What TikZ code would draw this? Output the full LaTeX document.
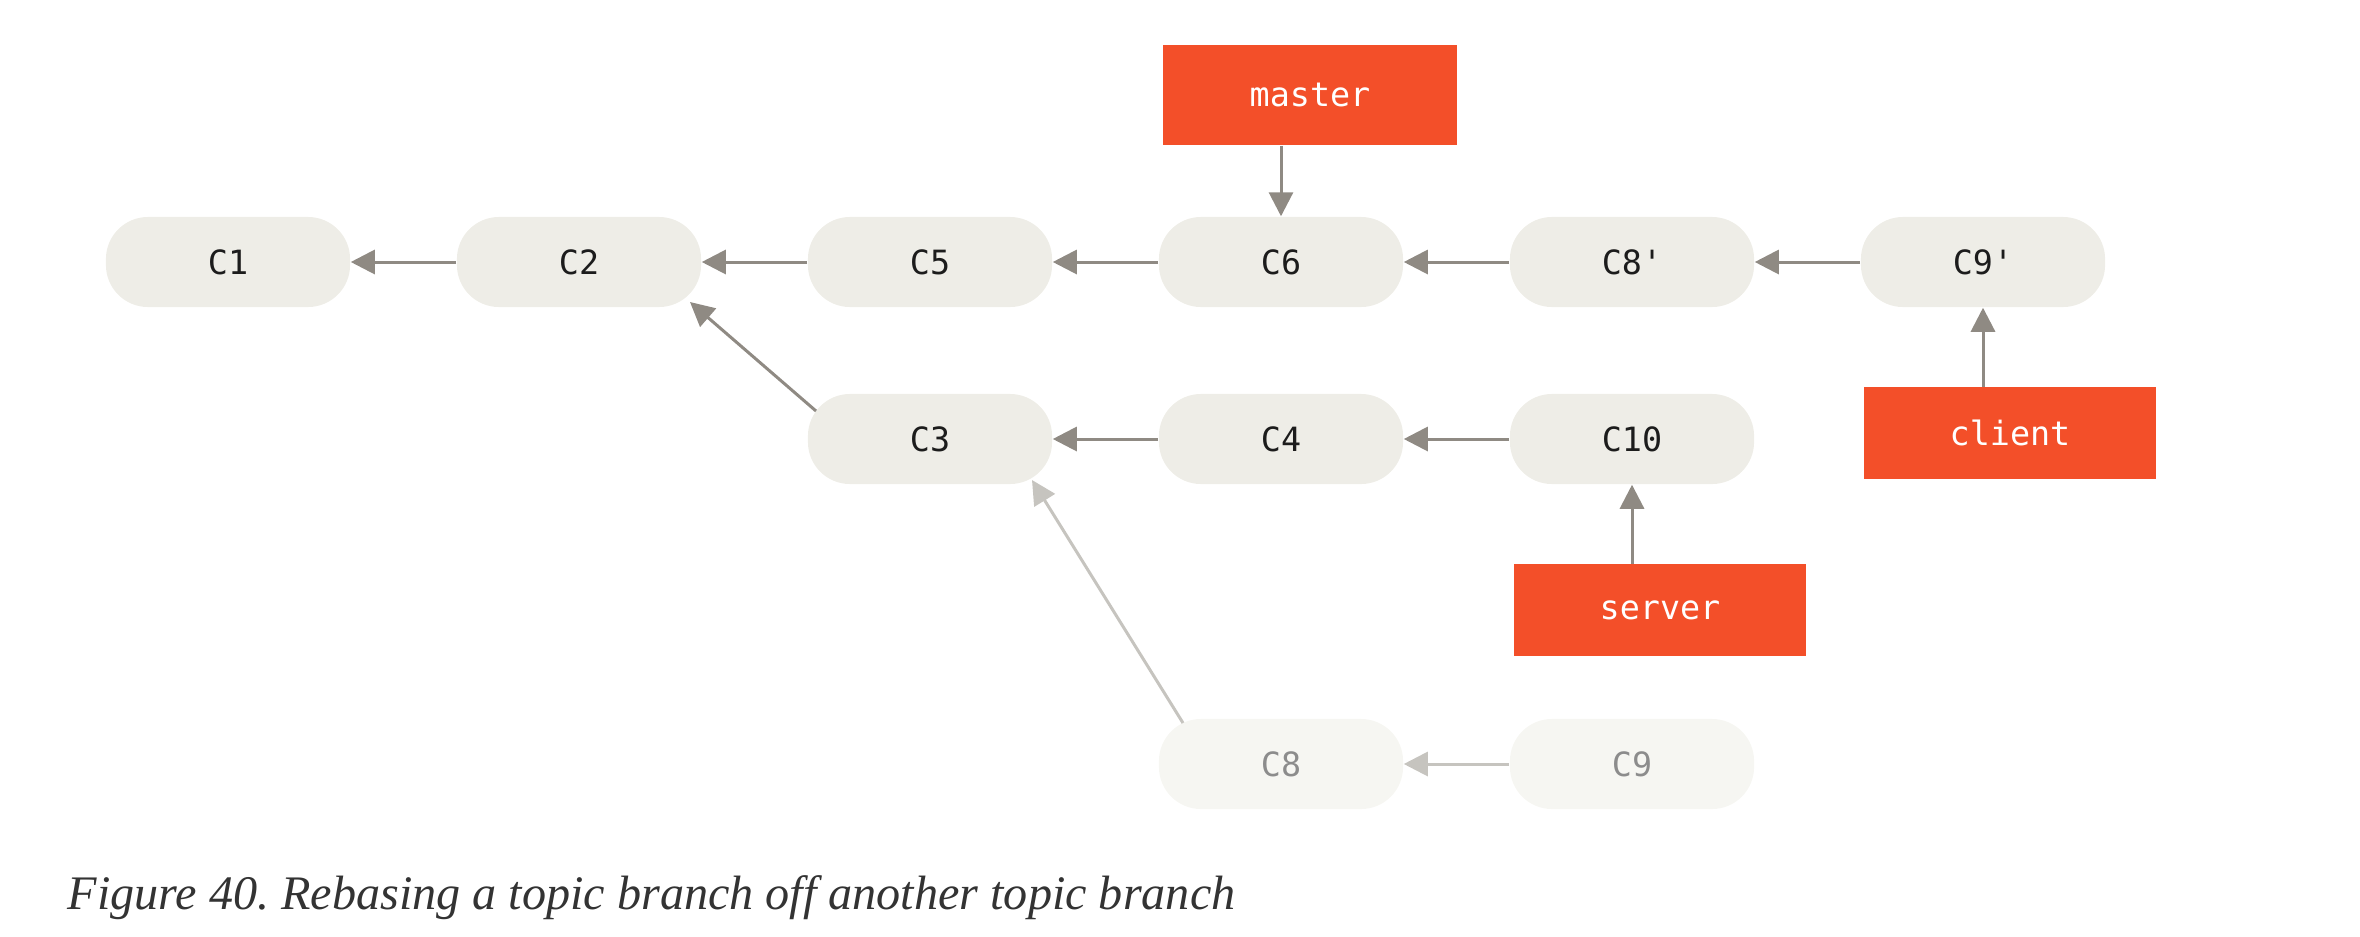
\documentclass[tikz,border=0pt]{standalone}
\usepackage{fontspec}
\setmonofont{DejaVu Sans Mono}
\newfontfamily\captionfont{Liberation Serif}
\usetikzlibrary{arrows.meta,calc}
\definecolor{cfill}{HTML}{EEEDE7}
\definecolor{ffill}{HTML}{F6F6F2}
\definecolor{ctext}{HTML}{1C1C1C}
\definecolor{ftext}{HTML}{8C8C8C}
\definecolor{arrowc}{HTML}{8F8A83}
\definecolor{farrow}{HTML}{C6C4BF}
\definecolor{branchred}{HTML}{F34F29}
\definecolor{captext}{HTML}{333333}
\tikzset{
  commit/.style={rectangle, rounded corners=0.42cm, minimum width=2.44cm, minimum height=0.9cm,
    inner sep=0pt, fill=cfill, text=ctext, font=\ttfamily\fontsize{9.5}{11}\selectfont},
  faded/.style={commit, fill=ffill, text=ftext},
  branch/.style={rectangle, fill=branchred, text=white, minimum width=2.92cm, minimum height=0.91cm,
    inner sep=0pt, font=\ttfamily\fontsize{9.5}{11}\selectfont},
  arr/.style={draw=arrowc, line width=0.03cm, -{Triangle[length=0.24cm,width=0.24cm]}},
  farr/.style={arr, draw=farrow},
}
\begin{document}
\begin{tikzpicture}[x=0.01cm,y=-0.01cm]
\useasboundingbox (0,0) rectangle (2360,936);
% row 1
\node[commit] (C1) at (228,262) {C1};
\node[commit] (C2) at (579,262) {C2};
\node[commit] (C5) at (930,262) {C5};
\node[commit] (C6) at (1281,262) {C6};
\node[commit] (C8p) at (1632,262) {C8'};
\node[commit] (C9p) at (1983,262) {C9'};
% row 2
\node[commit] (C3) at (930,439) {C3};
\node[commit] (C4) at (1281,439) {C4};
\node[commit] (C10) at (1632,439) {C10};
% row 3
\node[faded] (C8) at (1281,764) {C8};
\node[faded] (C9) at (1632,764) {C9};
% branches
\node[branch, minimum height=1.0cm, minimum width=2.94cm] (master) at (1310,95) {master};
\node[branch] (client) at (2010,433) {client};
\node[branch] (server) at (1660,610) {server};
% connectors
\draw[arr] (C2) -- (C1);
\draw[arr] (C5) -- (C2);
\draw[arr] (C6) -- (C5);
\draw[arr] (C8p) -- (C6);
\draw[arr] (C9p) -- (C8p);
\draw[arr] (C4) -- (C3);
\draw[arr] (C10) -- (C4);
\draw[farr] (C9) -- (C8);
\draw[arr] ($(C3.center)+(-114,-28)$) -- ($(C2.center)+(111,40)$);
\draw[farr] ($(C8.center)+(-98,-41)$) -- ($(C3.center)+(102,41)$);
\draw[arr] (C6 |- master.south) -- (C6.north);
\draw[arr] (C9p |- client.north) -- (C9p.south);
\draw[arr] (C10 |- server.north) -- (C10.south);
% caption
\node[anchor=base west, inner sep=0pt, text=captext, font=\captionfont\itshape\fontsize{13.7}{16}\selectfont] (cap) at (67,909)
  {\frenchspacing Figure 40. Rebasing a topic branch off another topic branch};
\end{tikzpicture}
\end{document}
